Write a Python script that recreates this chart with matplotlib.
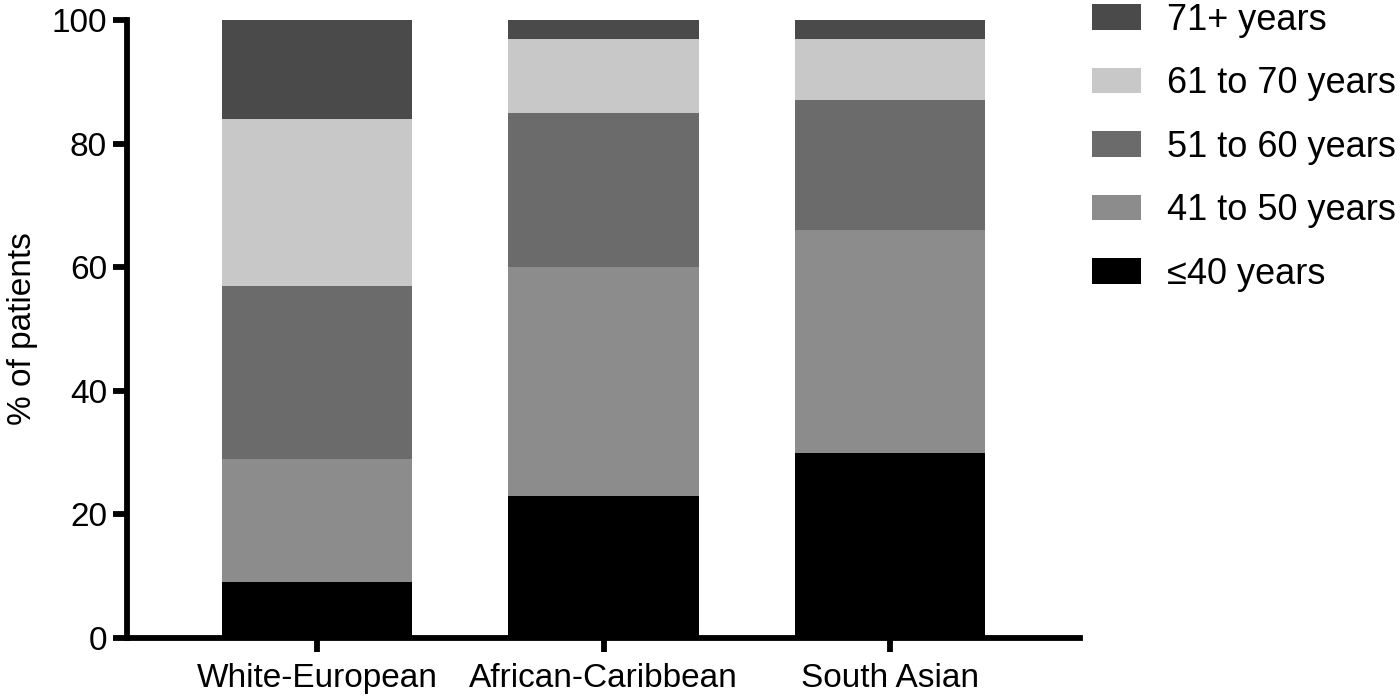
import numpy as np
import matplotlib.pyplot as plt

plt.rcParams['font.family'] = ['Liberation Sans', 'DejaVu Sans']

#*--данные------------------------------------------------------------------
groups = ['White-European', 'African-Caribbean', 'South Asian']
age_labels = ['\u226440 years', '41 to 50 years', '51 to 60 years',
              '61 to 70 years', '71+ years']
age_colors = ['#000000', '#8c8c8c', '#6b6b6b', '#c8c8c8', '#4a4a4a']

le40 = [9, 23, 30]
a41_50 = [20, 37, 36]
a51_60 = [28, 25, 21]
a61_70 = [27, 12, 10]
a71 = [16, 3, 3]
#*--------------------------------------------------------------------------

series = [le40, a41_50, a51_60, a61_70, a71]

fig = plt.figure(figsize=(14, 6.97), dpi=100)
ax = fig.add_axes([0.0904, 0.0847, 0.681, 0.8866])

x = np.arange(len(groups))
bottom = np.zeros(len(groups))
handles = []
for vals, lab, col in zip(series, age_labels, age_colors):
    b = ax.bar(x, vals, width=0.665, bottom=bottom, color=col, label=lab,
               linewidth=0)
    handles.append(b)
    bottom += np.array(vals)

ax.set_xlim(-0.665, 2.663)
ax.set_ylim(0, 100)
ax.set_yticks([0, 20, 40, 60, 80, 100])
ax.set_xticks(x)
ax.set_xticklabels(groups, fontsize=26)
ax.set_ylabel('% of patients', fontsize=24, labelpad=10)

for s in ['top', 'right']:
    ax.spines[s].set_visible(False)
for s in ['left', 'bottom']:
    ax.spines[s].set_linewidth(4.2)
    ax.spines[s].set_capstyle('projecting')
ax.tick_params(axis='both', width=4.2, length=10, labelsize=24, pad=4)
ax.tick_params(axis='x', pad=8)

fig.legend(handles[::-1], age_labels[::-1], loc='upper left',
           bbox_to_anchor=(0.757, 1.043), frameon=False, fontsize=26,
           handlelength=1.36, handleheight=0.72, handletextpad=0.7,
           labelspacing=0.79)

fig.savefig('out.png', dpi=100)
